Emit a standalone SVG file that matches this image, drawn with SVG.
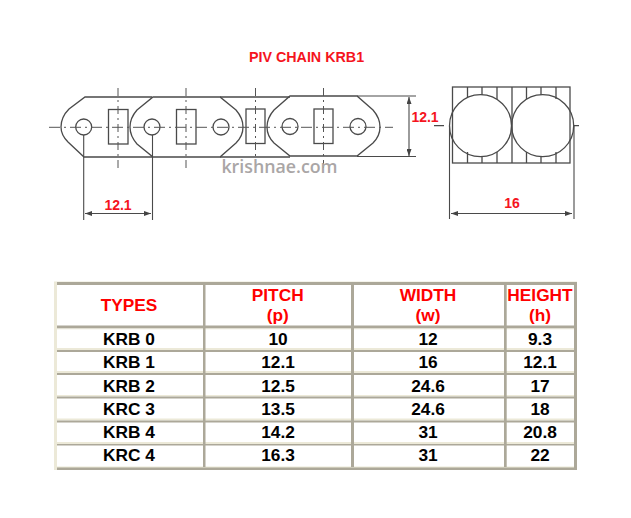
<svg xmlns="http://www.w3.org/2000/svg" width="631" height="518" viewBox="0 0 631 518">
<defs>
<marker id="a" viewBox="0 0 7 5" refX="7" refY="2.500" markerWidth="7" markerHeight="5" orient="auto-start-reverse" markerUnits="userSpaceOnUse"><path d="M0 0L7 2.500L0 5z" fill="#444"/></marker>
</defs>
<style>
.l{fill:none;stroke:#4a4a4a;stroke-width:1.3}
.c{fill:none;stroke:#555;stroke-width:1;stroke-dasharray:11 4 2 4}
.cv{fill:none;stroke:#555;stroke-width:1;stroke-dasharray:8 4 2 4}
.d{fill:none;stroke:#4a4a4a;stroke-width:1.1}
.r{font-family:"Liberation Sans",Arial,sans-serif;font-weight:bold;fill:#f5141e;text-anchor:middle}
.q{fill:#ff0000}
.t{font-family:"Liberation Sans",Arial,sans-serif;font-weight:bold;font-size:17.3px;fill:#000;text-anchor:middle}
.lt{fill:#ece9d8}
.dk{fill:#aca899}
</style>
<rect width="631" height="518" fill="#fff"/>
<text class="r" x="306.500" y="62" font-size="14.300">PIV CHAIN KRB1</text>
<g id="chain-front">
<path class="l" d="M152 97H85L69 109Q61 117 61 127Q61 135 68 142L84 157H152"/>
<path class="l" d="M153 97H220L236 110Q243 118 243 127Q243 136 236 143L220 157H153L137 144Q130 136 130 127Q130 118 137 110Z"/>
<path class="l" d="M220 97H290M220 157H290"/>
<path class="l" d="M290 96H357L373 110Q380 118 380 127Q380 136 373 143L357 156H290L274 143Q267 136 267 127Q267 118 274 110Z"/>
<circle class="l" cx="83.700" cy="127" r="8"/><circle class="l" cx="152" cy="127" r="8"/><circle class="l" cx="221" cy="127" r="8"/><circle class="l" cx="290" cy="126.500" r="8"/><circle class="l" cx="358" cy="126.500" r="8"/>
<rect class="l" x="108.500" y="109.500" width="19.500" height="34.500"/><rect class="l" x="176.500" y="109.500" width="19.500" height="34.500"/><rect class="l" x="246" y="109" width="19" height="34.500"/><rect class="l" x="314" y="109" width="19" height="34.500"/>
<path class="c" d="M49 127.300H393"/>
<path class="cv" d="M118 88V168M186 88V168M255.500 88V168M323.500 88V168"/>
</g>
<g id="chain-side">
<rect class="l" x="452.500" y="87" width="117.500" height="76"/>
<path class="l" d="M467.500 87V98M482 87V95M497 87V99M512 87V163M526.500 87V99M541 87V95M556 87V99M467.500 152V163M482 156V163M497 152V163M526.500 152V163M541 156V163M556 152V163"/>
<circle class="l" cx="480.500" cy="125.700" r="31" fill="#fff"/>
<circle class="l" cx="542.700" cy="125.700" r="31" fill="#fff"/>
<path class="l" d="M434 125.700H444M574 125.700H579"/>
</g>
<g id="connectors">
<path class="d" d="M83.700 135V220M152.500 135V220M357 96H416M357 156.500H416M449.500 126V219M574 126V219"/>
<path class="d" d="M85 213.500H151" marker-start="url(#a)" marker-end="url(#a)"/>
<path class="d" d="M409 97V156" marker-start="url(#a)" marker-end="url(#a)"/>
<path class="d" d="M451 213.500H572" marker-start="url(#a)" marker-end="url(#a)"/>
</g>
<g id="labels">
<text class="r" x="118" y="210" font-size="14">12.1</text>
<text class="r" x="425" y="122" font-size="14">12.1</text>
<text class="r" x="512" y="208" font-size="14">16</text>
<text x="279.500" y="173" font-family="'Open Sans',sans-serif" font-size="17.800" font-weight="600" fill="#aaa6a6" text-anchor="middle">krishnae.com</text>
</g>
<g id="table">
<rect class="lt" x="54" y="281.500" width="523" height="188.500"/>
<rect class="dk" x="57" y="282" width="520" height="188"/>
<g fill="#fff">
<rect x="57" y="285" width="517" height="182"/>
</g>
<rect class="lt" x="57" y="466.500" width="517" height="1"/>
<rect class="dk" x="57" y="325.500" width="517" height="3"/>
<rect class="lt" x="57" y="328.500" width="517" height="0.800"/>
<rect class="lt" x="57" y="348" width="517" height="2"/><rect class="dk" x="57" y="350" width="517" height="2"/>
<rect class="lt" x="57" y="371" width="517" height="2"/><rect class="dk" x="57" y="373" width="517" height="2"/>
<rect class="lt" x="57" y="395" width="517" height="1.500"/><rect class="dk" x="57" y="396.500" width="517" height="2"/>
<rect class="lt" x="57" y="418.500" width="517" height="2"/><rect class="dk" x="57" y="420.500" width="517" height="2"/>
<rect class="lt" x="57" y="442" width="517" height="2"/><rect class="dk" x="57" y="444" width="517" height="1.500"/>
<rect class="dk" x="203" y="285" width="2.500" height="182"/>
<rect class="dk" x="351" y="285" width="3" height="182"/>
<rect class="dk" x="504" y="285" width="2.700" height="182"/>
<g class="r q" font-size="17.300">
<text class="r q" x="129" y="311">TYPES</text>
<text class="r q" x="277.700" y="301">PITCH</text><text class="r q" x="277.700" y="321">(p)</text>
<text class="r q" x="428" y="301">WIDTH</text><text class="r q" x="428" y="321">(w)</text>
<text class="r q" x="540" y="301">HEIGHT</text><text class="r q" x="540" y="321">(h)</text>
</g>
<text class="t" x="129" y="345">KRB 0</text><text class="t" x="278" y="345">10</text><text class="t" x="428" y="345">12</text><text class="t" x="540" y="345">9.3</text>
<text class="t" x="129" y="368">KRB 1</text><text class="t" x="278" y="368">12.1</text><text class="t" x="428" y="368">16</text><text class="t" x="540" y="368">12.1</text>
<text class="t" x="129" y="392">KRB 2</text><text class="t" x="278" y="392">12.5</text><text class="t" x="428" y="392">24.6</text><text class="t" x="540" y="392">17</text>
<text class="t" x="129" y="415">KRC 3</text><text class="t" x="278" y="415">13.5</text><text class="t" x="428" y="415">24.6</text><text class="t" x="540" y="415">18</text>
<text class="t" x="129" y="438">KRB 4</text><text class="t" x="278" y="438">14.2</text><text class="t" x="428" y="438">31</text><text class="t" x="540" y="438">20.8</text>
<text class="t" x="129" y="461">KRC 4</text><text class="t" x="278" y="461">16.3</text><text class="t" x="428" y="461">31</text><text class="t" x="540" y="461">22</text>
</g>
</svg>
